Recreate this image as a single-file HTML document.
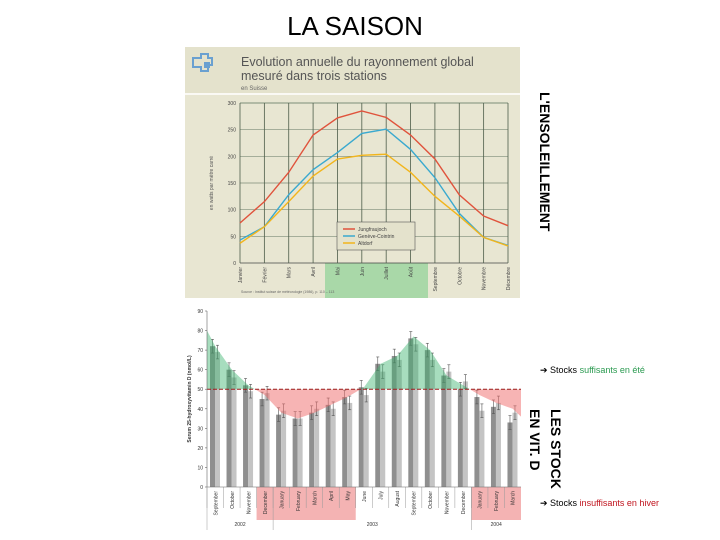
<!DOCTYPE html>
<html><head><meta charset="utf-8"><style>
body{margin:0;background:#fff;}
svg{display:block;font-family:"Liberation Sans",sans-serif;}
</style></head><body>
<svg id="s" width="720" height="540" viewBox="0 0 720 540" xmlns="http://www.w3.org/2000/svg">
<text x="355" y="35" font-size="26" text-anchor="middle" fill="#000">LA SAISON</text>

<g>
<rect x="185" y="47" width="335" height="251" fill="#e8e6d2"/>
<rect x="185" y="47" width="335" height="46" fill="#e4e2cc"/>
<line x1="185" y1="94" x2="520" y2="94" stroke="#fff" stroke-width="1.5"/>
<g>
<path d="M193 58h8v-4h7v4h4v7h-4v6h-7v-4h-8z" fill="none" stroke="#6aa0d0" stroke-width="2"/>
<rect x="204" y="62" width="6" height="6" fill="#6aa0d0"/>
</g>
<text x="241" y="66" font-size="12.5" fill="#555">Evolution annuelle du rayonnement global</text>
<text x="241" y="80" font-size="12.5" fill="#555">mesuré dans trois stations</text>
<text x="241" y="90" font-size="6" fill="#666">en Suisse</text>
<rect x="325" y="263" width="103" height="35" fill="#a9d8a8"/>
<g id="topchart"></g>
<text transform="translate(213,183) rotate(-90)" font-size="5" fill="#555" text-anchor="middle">en watts par mètre carré</text>
<text x="241" y="293" font-size="3.5" fill="#666">Source : Institut suisse de météorologie (1986), p. 110 – 113</text>
</g>

<g id="botchart"></g>

<text transform="translate(540,92) rotate(90)" font-size="14" font-weight="bold" fill="#000">L'ENSOLEILLEMENT</text>
<text transform="translate(551,409) rotate(90)" font-size="14" font-weight="bold" fill="#000">LES STOCK</text>
<text transform="translate(530,409) rotate(90)" font-size="14" font-weight="bold" fill="#000">EN VIT. D</text>
<text x="540" y="373" font-size="9" fill="#000">➔ Stocks <tspan fill="#2a9a50">suffisants en été</tspan></text>
<text x="540" y="506" font-size="9" fill="#000">➔ Stocks <tspan fill="#c0141e">insuffisants en hiver</tspan></text>
</svg>
<script>
const NS="http://www.w3.org/2000/svg";
function mk(p,t,a){const e=document.createElementNS(NS,t);for(const k in a)e.setAttribute(k,a[k]);p.appendChild(e);return e;}

const months=["Janvier","Février","Mars","Avril","Mai","Juin","Juillet","Août","Septembre","Octobre","Novembre","Décembre"];
const jungfrau=[75,115,170,240,272,285,273,240,195,128,88,70];
const geneve=[43,68,128,175,207,243,251,213,160,93,48,33];
const altdorf=[37,68,115,163,195,202,204,170,125,88,48,32];
const radTicks=[0,50,100,150,200,250,300];

const topG=document.getElementById('topchart');
const tx=i=>240+i*(268/11), ty=v=>263-v*(160/300);
radTicks.forEach(t=>{
  const l=mk(topG,'line',{x1:240,x2:508,y1:ty(t),y2:ty(t),stroke:t==0?'#444':'#7d8d78','stroke-width':t==300?1:0.7});
  
  
  const tt=mk(topG,'text',{x:236,y:ty(t)+2,'font-size':5,'text-anchor':'end',fill:'#444'});
  tt.textContent=t;
  
  
});
months.forEach((m,i)=>{
  const l=mk(topG,'line',{x1:tx(i),x2:tx(i),y1:ty(300),y2:263,stroke:'#4d5d4a','stroke-width':0.8});
  
  
  const t=mk(topG,'text',{transform:`translate(${tx(i)+2},267) rotate(-90)`,'font-size':5,'text-anchor':'end',fill:'#444'});
  t.textContent=m;
  
  
});
[[jungfrau,'#e0533c','jungfraujoch'],[geneve,'#3aa9cf','geneve-cointrin'],[altdorf,'#f2b51c','altdorf']].forEach(([d,c,n])=>{
  const p=mk(topG,'polyline',{points:d.map((v,i)=>tx(i)+','+ty(v)).join(' '),fill:'none',stroke:c,'stroke-width':1.4});
  
  
});
const lg=mk(topG,'g',{});


mk(lg,'rect',{x:337,y:222,width:78,height:28,fill:'#e4e2cc',stroke:'#555','stroke-width':0.6});
[['Jungfraujoch','#e0533c'],['Genève-Cointrin','#3aa9cf'],['Altdorf','#f2b51c']].forEach(([n,c],k)=>{
  mk(lg,'line',{x1:343,x2:355,y1:229+k*7,y2:229+k*7,stroke:c,'stroke-width':1.5});
  const t=mk(lg,'text',{x:358,y:231+k*7,'font-size':5,fill:'#444'});t.textContent=n;
});

const cats=["September","October","November","December","January","February","March","April","May","June","July","August","September","October","November","December","January","February","March"];
const darkVals=[72,60,52,45,37,35,38,42,46,51,63,67,76,70,57,50,46,41,33];
const lightVals=[69,56,49,48,39,35,40,40,43,47,59,65,73,65,59,54,39,43,38];
const envelope=[80,72,60,52,47,38,35,38,42,46,51,63,67,77,70,57,52,47,43,40,36];
const vitTicks=[0,10,20,30,40,50,60,70,80,90];
const threshold=50;

const botG=document.getElementById('botchart');
const bx0=207,bx1=521,step=(bx1-bx0)/cats.length;
const by=v=>487-v*(176/90);
const cx=i=>bx0+step*(i+0.5);
const ex=k=>k==0?bx0:(k==envelope.length-1?bx1:cx(k-1));
[[3,9],[16,19]].forEach(([a,b])=>{
  const r=mk(botG,'rect',{x:bx0+a*step,y:487,width:(b-a)*step,height:33,fill:'#f4b3b3'});
  
  
});
cats.forEach((c,i)=>{
  const xl=bx0+i*step+3;
  const b1=mk(botG,'rect',{x:xl,y:by(darkVals[i]),width:5,height:487-by(darkVals[i]),fill:'#8f8f8f'});
  
  
  const b2=mk(botG,'rect',{x:xl+5,y:by(lightVals[i]),width:5,height:487-by(lightVals[i]),fill:'#c4c4c4'});
  
  
  [[xl+2.5,darkVals[i]],[xl+7.5,lightVals[i]]].forEach(([x,v])=>{
    mk(botG,'line',{x1:x,x2:x,y1:by(v+3.5),y2:by(v-3.5),stroke:'#555','stroke-width':0.6});
    mk(botG,'line',{x1:x-1.5,x2:x+1.5,y1:by(v+3.5),y2:by(v+3.5),stroke:'#555','stroke-width':0.6});
    mk(botG,'line',{x1:x-1.5,x2:x+1.5,y1:by(v-3.5),y2:by(v-3.5),stroke:'#555','stroke-width':0.6});
  });
  const t=mk(botG,'text',{transform:`translate(${cx(i)+2},491) rotate(-90)`,'font-size':5,'text-anchor':'end',fill:'#333'});
  t.textContent=c;
  
  
  mk(botG,'line',{x1:bx0+i*step,x2:bx0+i*step,y1:487,y2:508,stroke:'#999','stroke-width':0.5});
});
const defs=mk(botG,'defs',{});
const ca=mk(defs,'clipPath',{id:'above'});mk(ca,'rect',{x:bx0,y:0,width:bx1-bx0,height:by(threshold)});
const cb=mk(defs,'clipPath',{id:'below'});mk(cb,'rect',{x:bx0,y:by(threshold),width:bx1-bx0,height:200});
const pts=envelope.map((v,k)=>ex(k)+','+by(v)).join(' ');
const poly=`${bx0},${by(threshold)} ${pts} ${bx1},${by(threshold)}`;
const g1=mk(botG,'polygon',{points:poly,fill:'#3cb46e','fill-opacity':0.45,'clip-path':'url(#above)'});


const g2=mk(botG,'polygon',{points:poly,fill:'#f06a6a','fill-opacity':0.5,'clip-path':'url(#below)'});


const th=mk(botG,'line',{x1:bx0,x2:bx1,y1:by(threshold),y2:by(threshold),stroke:'#9b1c1c','stroke-width':1,'stroke-dasharray':'4,2'});


mk(botG,'line',{x1:bx0,x2:bx0,y1:by(90),y2:487,stroke:'#666','stroke-width':0.6});
mk(botG,'line',{x1:bx0,x2:bx1,y1:487,y2:487,stroke:'#666','stroke-width':0.6});
vitTicks.forEach(t=>{
  mk(botG,'line',{x1:bx0-2,x2:bx0,y1:by(t),y2:by(t),stroke:'#666','stroke-width':0.6});
  const tt=mk(botG,'text',{x:bx0-4,y:by(t)+2,'font-size':5,'text-anchor':'end',fill:'#333'});
  tt.textContent=t;
  
  
});
const yt=mk(botG,'text',{transform:`translate(191,${by(45)}) rotate(-90)`,'font-size':5,'font-weight':'bold','text-anchor':'middle',fill:'#333'});
yt.textContent='Serum 25-hydroxyvitamin D (nmol/L)';


[['2002',0,4],['2003',4,16],['2004',16,19]].forEach(([y,a,b])=>{
  mk(botG,'line',{x1:bx0+a*step,x2:bx0+a*step,y1:487,y2:530,stroke:'#999','stroke-width':0.5});
  const t=mk(botG,'text',{x:bx0+(a+b)/2*step,y:526,'font-size':5,'text-anchor':'middle',fill:'#333'});
  t.textContent=y;
  
  
});
</script>
</body></html>
